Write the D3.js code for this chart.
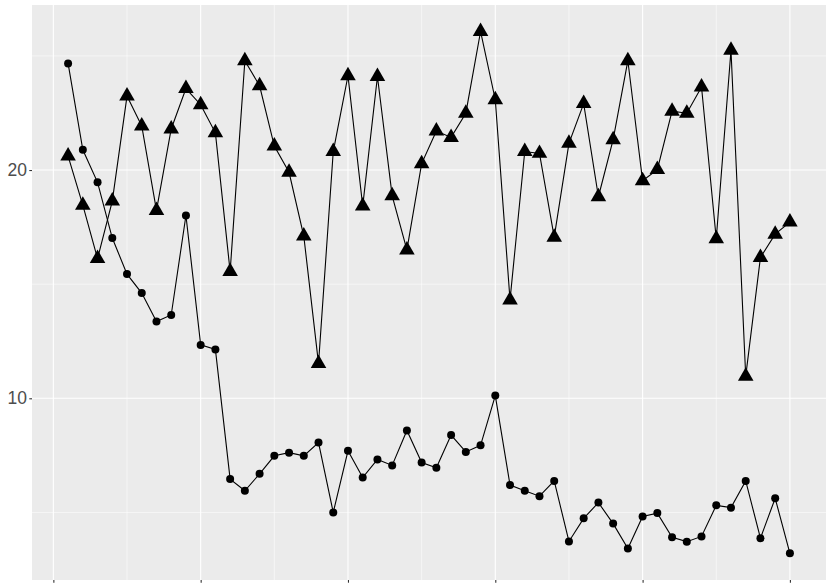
<!DOCTYPE html>
<html>
<head>
<meta charset="utf-8">
<script src="https://cdn.jsdelivr.net/npm/d3@7"></script>
<style>
  html, body { margin: 0; padding: 0; background: #ffffff; }
  svg { display: block; }
</style>
</head>
<body>
<svg id="chart" width="830" height="588"></svg>
<script>
// ---- data ----
const xIndex = d3.range(1, 51);
const circleSeries = [24.67, 20.89, 19.46, 17.02, 15.44, 14.61, 13.36, 13.65, 18.01, 12.34,
  12.14, 6.46, 5.95, 6.69, 7.48, 7.62, 7.48, 8.06, 5.00, 7.70,
  6.53, 7.32, 7.06, 8.59, 7.19, 6.96, 8.39, 7.65, 7.94, 10.12,
  6.20, 5.95, 5.71, 6.38, 3.73, 4.74, 5.43, 4.51, 3.42, 4.82,
  4.97, 3.91, 3.72, 3.95, 5.31, 5.21, 6.38, 3.87, 5.62, 3.21];
const triangleSeries = [20.61, 18.46, 16.12, 18.64, 23.24, 21.93, 18.23, 21.80, 23.57, 22.86,
  21.63, 15.55, 24.79, 23.69, 21.05, 19.90, 17.11, 11.52, 20.81, 24.13,
  18.42, 24.10, 18.87, 16.50, 20.28, 21.71, 21.43, 22.49, 26.07, 23.08,
  14.31, 20.81, 20.73, 17.06, 21.17, 22.91, 18.83, 21.33, 24.79, 19.53,
  20.02, 22.58, 22.49, 23.64, 16.99, 25.25, 10.97, 16.17, 17.19, 17.72];
const xMajorTicks = [0, 10, 20, 30, 40, 50];
const xMinorTicks = [5, 15, 25, 35, 45];
const yMajorTicks = [10, 20];
const yTickLabels = ["10", "20"];
const yMinorTicks = [5, 15, 25];

// ---- layout ----
const panel = { left: 32, right: 826, top: 5, bottom: 580 };
const svg = d3.select("#chart");

const x = d3.scaleLinear().domain([1 - 2.45, 50 + 2.45]).range([panel.left, panel.right]);
const y = d3.scaleLinear().domain([2.04, 27.23]).range([panel.bottom, panel.top]);

// panel background
svg.append("rect")
  .attr("x", panel.left).attr("y", panel.top)
  .attr("width", panel.right - panel.left).attr("height", panel.bottom - panel.top)
  .attr("fill", "#EBEBEB");

const grid = svg.append("g");
// minor grid
grid.selectAll("line.ymin").data(yMinorTicks).join("line")
  .attr("x1", panel.left).attr("x2", panel.right)
  .attr("y1", d => y(d)).attr("y2", d => y(d))
  .attr("stroke", "#ffffff").attr("stroke-width", 0.55);
grid.selectAll("line.xmin").data(xMinorTicks).join("line")
  .attr("y1", panel.top).attr("y2", panel.bottom)
  .attr("x1", d => x(d)).attr("x2", d => x(d))
  .attr("stroke", "#ffffff").attr("stroke-width", 0.55);
// major grid
grid.selectAll("line.ymaj").data(yMajorTicks).join("line")
  .attr("x1", panel.left).attr("x2", panel.right)
  .attr("y1", d => y(d)).attr("y2", d => y(d))
  .attr("stroke", "#ffffff").attr("stroke-width", 1.1);
grid.selectAll("line.xmaj").data(xMajorTicks).join("line")
  .attr("y1", panel.top).attr("y2", panel.bottom)
  .attr("x1", d => x(d)).attr("x2", d => x(d))
  .attr("stroke", "#ffffff").attr("stroke-width", 1.1);

// axes
const yAxis = d3.axisLeft(y).tickValues(yMajorTicks)
  .tickFormat((d, i) => yTickLabels[i]).tickSize(2.7).tickPadding(2.3);
const gy = svg.append("g").attr("transform", `translate(${panel.left},0)`).call(yAxis);
gy.select(".domain").remove();
gy.selectAll(".tick line").attr("stroke", "#333333").attr("stroke-width", 1.1);
gy.selectAll(".tick text").attr("fill", "#4D4D4D")
  .style("font-family", "'Liberation Sans', Arial, Helvetica, sans-serif")
  .style("font-size", "17.5px");

const xAxis = d3.axisBottom(x).tickValues(xMajorTicks).tickFormat("").tickSize(2.7);
const gx = svg.append("g").attr("transform", `translate(0,${panel.bottom})`).call(xAxis);
gx.select(".domain").remove();
gx.selectAll(".tick line").attr("stroke", "#333333").attr("stroke-width", 1.1);

// lines
const line = d3.line().x((d, i) => x(xIndex[i])).y(d => y(d));
svg.append("path").datum(circleSeries).attr("d", line)
  .attr("fill", "none").attr("stroke", "#000000").attr("stroke-width", 1.1);
svg.append("path").datum(triangleSeries).attr("d", line)
  .attr("fill", "none").attr("stroke", "#000000").attr("stroke-width", 1.1);

// points
svg.append("g").selectAll("circle").data(circleSeries).join("circle")
  .attr("cx", (d, i) => x(xIndex[i])).attr("cy", d => y(d))
  .attr("r", 4).attr("fill", "#000000");

const tri = d3.symbol().type(d3.symbolTriangle).size(105);
svg.append("g").selectAll("path").data(triangleSeries).join("path")
  .attr("d", tri)
  .attr("transform", (d, i) => `translate(${x(xIndex[i])},${y(d)})`)
  .attr("fill", "#000000");
</script>
</body>
</html>
